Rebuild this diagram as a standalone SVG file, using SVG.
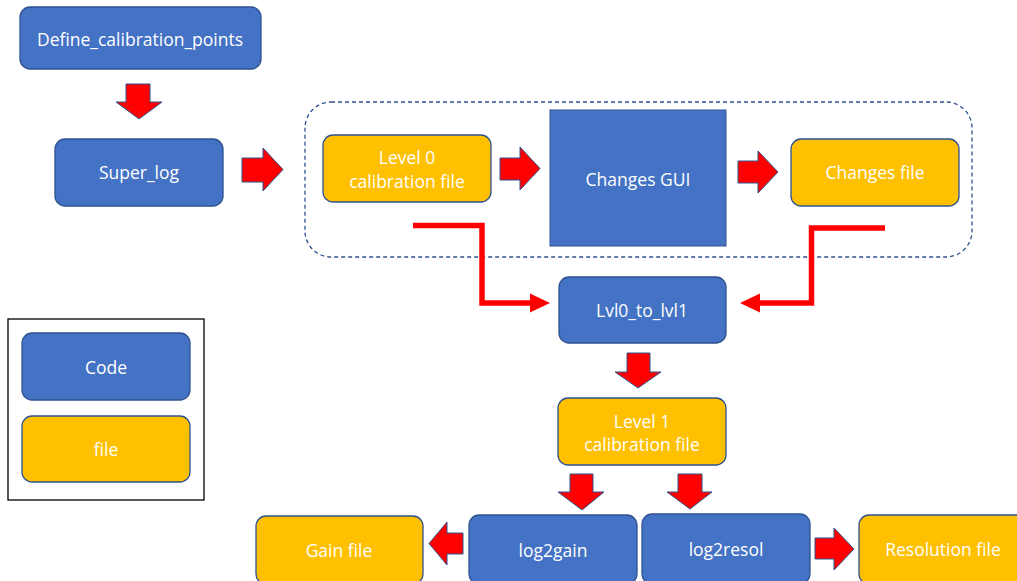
<svg xmlns="http://www.w3.org/2000/svg" width="1017" height="581" viewBox="0 0 1017 581">
<style>
.code{fill:#4472C4;stroke:#2F528F;stroke-width:1.3}
.file{fill:#FFC000;stroke:#2F528F;stroke-width:1.3}
.gui{fill:#4472C4;stroke:#2F528F;stroke-width:1}
.t{font-family:"Open Sans","Liberation Sans",sans-serif;font-size:17.5px;fill:#FFFFFF;text-anchor:middle;dominant-baseline:central}
.blk{fill:#FF0000;stroke:#2F528F;stroke-width:1}
.line{fill:none;stroke:#FF0000;stroke-width:5.5}
.head{fill:#FF0000}
</style>
<rect width="1017" height="581" fill="#FFFFFF"/>
<rect id="container" x="305" y="102" width="667" height="155" rx="26" fill="none" stroke="#2F528F" stroke-width="1.3" stroke-dasharray="4,3"/>
<g id="legend">
<rect x="8" y="319" width="196" height="181" fill="#FFFFFF" stroke="#000000" stroke-width="1.3"/>
</g>
<g id="legend-code"><rect class="code" x="22" y="333" width="168" height="67" rx="10"/><text class="t" x="106" y="367">Code</text></g>
<g id="legend-file"><rect class="file" x="22" y="416" width="168" height="66" rx="10"/><text class="t" x="106" y="449">file</text></g>
<g id="define"><rect class="code" x="20" y="7" width="241" height="62" rx="10"/><text class="t" x="140" y="39">Define_calibration_points</text></g>
<g id="superlog"><rect class="code" x="55" y="139" width="168" height="67" rx="10"/><text class="t" x="139" y="172">Super_log</text></g>
<g id="level0"><rect class="file" x="323" y="135" width="168" height="67" rx="10"/><text class="t" x="407" y="157">Level 0</text><text class="t" x="407" y="181">calibration file</text></g>
<g id="gui"><rect class="gui" x="550" y="110" width="176" height="136"/><text class="t" x="638" y="179">Changes GUI</text></g>
<g id="changesfile"><rect class="file" x="791" y="139" width="168" height="67" rx="10"/><text class="t" x="875" y="172">Changes file</text></g>
<g id="lvl0tolvl1"><rect class="code" x="559" y="277" width="167" height="66" rx="10"/><text class="t" x="642" y="310">Lvl0_to_lvl1</text></g>
<g id="level1"><rect class="file" x="558" y="398" width="168" height="67" rx="10"/><text class="t" x="642" y="421">Level 1</text><text class="t" x="642" y="444">calibration file</text></g>
<g id="gainfile"><rect class="file" x="256" y="516" width="167" height="68" rx="10"/><text class="t" x="339" y="550">Gain file</text></g>
<g id="log2gain"><rect class="code" x="469" y="515" width="168" height="69" rx="10"/><text class="t" x="553" y="550">log2gain</text></g>
<g id="log2resol"><rect class="code" x="642" y="514" width="168" height="70" rx="10"/><text class="t" x="726" y="549">log2resol</text></g>
<g id="resolfile"><rect class="file" x="859" y="515" width="168" height="69" rx="10"/><text class="t" x="943" y="549">Resolution file</text></g>
<g id="connectors">
<polygon class="blk" points="126,84 150,84 150,102 162,102 139,119 116,102 126,102"/>
<polygon class="blk" points="242,158 263,158 263,148 283,169.5 263,191 263,182 242,182"/>
<polygon class="blk" points="500,158 520,158 520,147 540,168.5 520,190 520,180 500,180"/>
<polygon class="blk" points="738,161 758,161 758,151 778,172 758,193 758,183 738,183"/>
<polygon class="blk" points="627,353 650,353 650,372 661,372 638,388 615,372 627,372"/>
<polygon class="blk" points="570,474 593,474 593,492 604,492 582,510 558,492 570,492"/>
<polygon class="blk" points="678,474 702,474 702,492 712,492 690,509 667,492 678,492"/>
<polygon class="blk" points="463,533 447,533 447,522 429,543.5 447,565 447,554 463,554"/>
<polygon class="blk" points="815,538 834,538 834,528 854,549 834,570 834,559 815,559"/>
<polyline class="line" points="413,225.5 482,225.5 482,303 534,303"/>
<polygon class="head" points="550,303 530,293.5 530,312.5"/>
<polyline class="line" points="885,228 811.5,228 811.5,303 756,303"/>
<polygon class="head" points="740,303 760,293.5 760,312.5"/>
</g>
</svg>
